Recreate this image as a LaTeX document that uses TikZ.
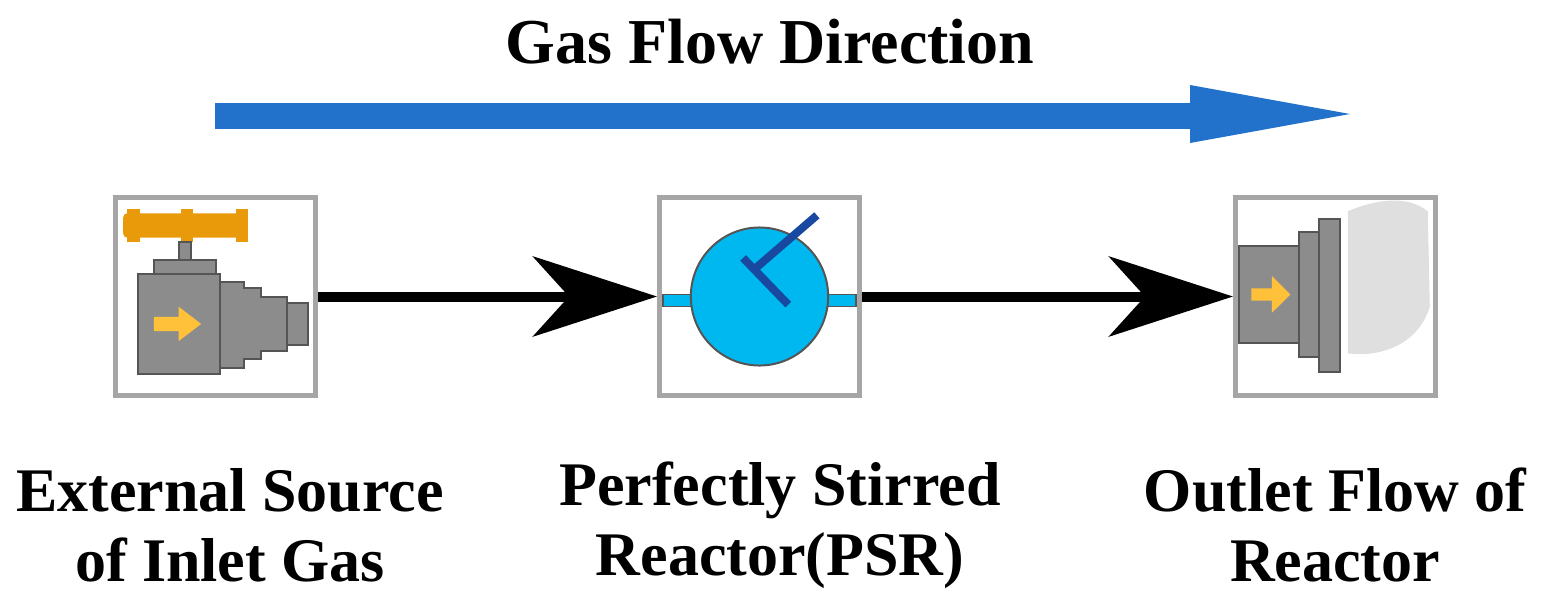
\documentclass[tikz,border=0pt]{standalone}
\usepackage{fontspec}
\setmainfont{Liberation Serif}
\usetikzlibrary{arrows.meta}
\definecolor{flowblue}{HTML}{2272CC}
\definecolor{valvegray}{HTML}{8C8C8C}
\definecolor{darkg}{HTML}{555555}
\definecolor{handleor}{HTML}{E89A0A}
\definecolor{arrowyel}{HTML}{FFC03A}
\definecolor{psrblue}{HTML}{00B8F0}
\definecolor{stirblue}{HTML}{1848A0}
\tikzset{
  iconbox/.style={draw=gray!70, line width=2.5pt, minimum width=100pt, minimum height=99pt, inner sep=0pt},
  lbl/.style={font=\fontsize{31}{35}\selectfont\bfseries, align=center},
  conn/.style={line width=5pt, -{Stealth[length=62pt,width=40pt,inset=18pt]}},
  part/.style={draw=darkg, line width=1pt}
}
\begin{document}
\begin{tikzpicture}[x=0.5pt,y=-0.5pt]
\useasboundingbox (0,0) rectangle (1547,611);
\node[lbl,font=\fontsize{32}{36}\selectfont\bfseries] (title) at (770,42) {Gas Flow Direction};
\fill[flowblue] (215,103) rectangle (1192,129);
\fill[flowblue] (1190,85) -- (1350,114) -- (1190,143) -- cycle;

\node[iconbox] (src) at (215.5,296.5) {};
\node[iconbox] (psr) at (759.5,296.5) {};
\node[iconbox] (out) at (1335.5,296.5) {};

% valve icon
\begin{scope}[shift={(113,195)},xscale=205,yscale=203]
 \fill[handleor,rounded corners=2pt] (0.05,0.09) rectangle (0.65,0.21);
 \foreach \h in {0.07,0.33,0.6} \fill[handleor] (\h,0.07) rectangle ++(0.06,0.16);
 \draw[part,fill=valvegray] (0.32,0.23) rectangle (0.38,0.32);
 \draw[part,fill=valvegray] (0.2,0.32) rectangle (0.5,0.39);
 \draw[part,fill=valvegray] (0.52,0.43) -- (0.64,0.43) -- (0.64,0.46) -- (0.72,0.46) -- (0.72,0.5) -- (0.85,0.5) -- (0.85,0.77) -- (0.72,0.77) -- (0.72,0.81) -- (0.64,0.81) -- (0.64,0.85) -- (0.52,0.85) -- cycle;
 \draw[part,fill=valvegray] (0.85,0.53) rectangle (0.95,0.74);
 \draw[part,fill=valvegray] (0.12,0.39) rectangle (0.52,0.88);
 \fill[arrowyel] (0.2,0.6) -- (0.32,0.6) -- (0.32,0.55) -- (0.43,0.635) -- (0.32,0.72) -- (0.32,0.67) -- (0.2,0.67) -- cycle;
\end{scope}

% PSR icon
\begin{scope}[shift={(657,195)},xscale=205,yscale=203]
 \fill[psrblue,draw=darkg,line width=0.7pt] (0.03,0.49) rectangle (0.97,0.55);
 \fill[psrblue,draw=darkg,line width=1pt] (0.5,0.5) ellipse (0.335 and 0.34);
 \draw[stirblue,line width=4pt] (0.78,0.1) -- (0.47,0.37);
 \draw[stirblue,line width=4pt] (0.42,0.31) -- (0.64,0.54);
\end{scope}

% outlet icon
\begin{scope}[shift={(1233,195)},xscale=205,yscale=203]
 \fill[gray!25] (0.56,0.08) .. controls (0.7,0.02) and (0.85,0.0) .. (0.95,0.08) -- (0.96,0.55) .. controls (0.9,0.75) and (0.7,0.8) .. (0.56,0.78) -- cycle;
 \draw[part,fill=valvegray] (0.42,0.12) rectangle (0.52,0.87);
 \draw[part,fill=valvegray] (0.32,0.18) rectangle (0.42,0.8);
 \draw[part,fill=valvegray] (0.03,0.25) rectangle (0.32,0.73);
 \fill[arrowyel] (0.09,0.46) -- (0.19,0.46) -- (0.19,0.4) -- (0.28,0.49) -- (0.19,0.58) -- (0.19,0.52) -- (0.09,0.52) -- cycle;
\end{scope}

\draw[conn] (src.east) -- (psr.west);
\draw[conn] (psr.east) -- (out.west);

\node[lbl] (l1) at (230,525) {External Source\\of Inlet Gas};
\node[lbl] (l2) at (780,525) {Perfectly Stirred\\Reactor(PSR)};
\node[lbl] (l3) at (1335,525) {Outlet Flow of\\Reactor};
\end{tikzpicture}
\end{document}
